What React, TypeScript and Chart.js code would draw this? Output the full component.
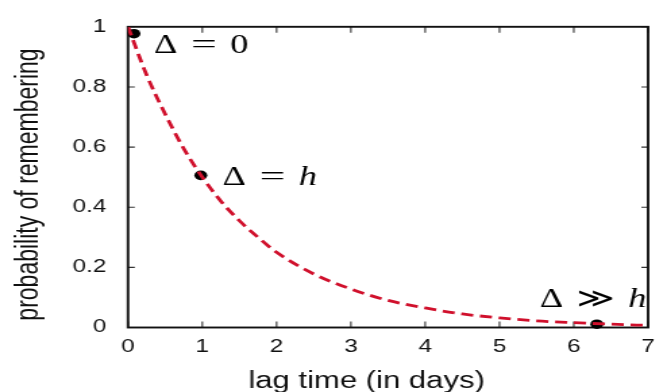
import React, { useEffect, useRef } from "react";
import { Chart, registerables } from "chart.js";

Chart.register(...registerables);

// ---- data ----
const curveX = [0, 0.25, 0.5, 0.75, 1, 1.25, 1.5, 1.75, 2, 2.5, 3, 3.5, 4, 4.5, 5, 5.5, 6, 6.5, 7];
const curveY = [1.0, 0.84, 0.71, 0.595, 0.5, 0.42, 0.355, 0.3, 0.25, 0.178, 0.128, 0.09, 0.065, 0.045, 0.032, 0.022, 0.016, 0.011, 0.007];
const pointX = [0.08, 0.98, 6.31];
const pointY = [0.977, 0.506, 0.011];
const labelTexts = ["Δ = 0", "Δ = h", "Δ ≫ h"];
const labelX = [0.35, 1.27, 5.54];
const labelY = [0.912, 0.474, 0.068];
const xTicks = [0, 1, 2, 3, 4, 5, 6, 7];
const yTicks = [0, 0.2, 0.4, 0.6, 0.8, 1];
const xTitle = "lag time (in days)";
const yTitle = "probability of remembering";

const SANS = '"Liberation Sans", Arial, Helvetica, sans-serif';
const SERIF = '"Liberation Serif", "Times New Roman", serif';

const framePlugin = {
  id: "frame",
  beforeDatasetsDraw(chart: any) {
    const { ctx, chartArea: a, scales } = chart;
    ctx.save();
    ctx.strokeStyle = "#333";
    ctx.lineWidth = 1.1;
    xTicks.forEach((v) => {
      const px = scales.x.getPixelForValue(v);
      ctx.beginPath();
      ctx.moveTo(px, a.bottom);
      ctx.lineTo(px, a.bottom - 6);
      ctx.moveTo(px, a.top);
      ctx.lineTo(px, a.top + 6);
      ctx.stroke();
    });
    yTicks.forEach((v) => {
      const py = scales.y.getPixelForValue(v);
      ctx.beginPath();
      ctx.moveTo(a.left, py);
      ctx.lineTo(a.left + 5, py);
      ctx.moveTo(a.right, py);
      ctx.lineTo(a.right - 5, py);
      ctx.stroke();
    });
    ctx.strokeStyle = "#111";
    ctx.lineWidth = 1.9;
    ctx.strokeRect(a.left, a.top, a.right - a.left, a.bottom - a.top);
    ctx.restore();
  },
};

const textPlugin = {
  id: "texts",
  afterDraw(chart: any) {
    const { ctx, scales } = chart;
    ctx.save();
    ctx.fillStyle = "#000";
    ctx.textAlign = "left";
    ctx.textBaseline = "alphabetic";
    labelTexts.forEach((t, i) => {
      const [p1, rel, p3] = t.split(" ");
      const x = scales.x.getPixelForValue(labelX[i]);
      const y = scales.y.getPixelForValue(labelY[i]);
      ctx.font = `27px ${SERIF}`;
      ctx.fillText(p1, x, y);
      const x2 = x + 27.5;
      const sx = rel === "=" ? 1.25 : 1;
      const relW = ctx.measureText(rel).width * sx;
      ctx.save();
      ctx.translate(x2, y);
      ctx.scale(sx, 1);
      ctx.fillText(rel, 0, 0);
      ctx.restore();
      const x3 = x2 + relW + 10;
      ctx.font = /[a-z]/.test(p3) ? `italic 27px ${SERIF}` : `27px ${SERIF}`;
      ctx.fillText(p3, x3, y);
    });
    // axis titles
    ctx.fillStyle = "#111";
    ctx.font = `23px ${SANS}`;
    ctx.textAlign = "center";
    ctx.fillText(xTitle, 271.5, 388);
    ctx.save();
    ctx.translate(27.7, 184.5);
    ctx.rotate(-Math.PI / 2);
    ctx.font = `23px ${SANS}`;
    ctx.fillText(yTitle, 0, 0);
    ctx.restore();
    ctx.restore();
  },
};

export default function App() {
  const ref = useRef<HTMLCanvasElement | null>(null);
  useEffect(() => {
    document.body.style.margin = "0";
    const canvas = ref.current!;
    const chart = new Chart(canvas, {
      type: "scatter",
      data: {
        datasets: [
          {
            data: curveX.map((x, i) => ({ x, y: curveY[i] })),
            showLine: true,
            borderColor: "#d0102c",
            borderWidth: 2.8,
            borderDash: [9, 5],
            pointRadius: 0,
            cubicInterpolationMode: "monotone",
            fill: false,
          },
          {
            data: pointX.map((x, i) => ({ x, y: pointY[i] })),
            showLine: false,
            pointRadius: 4.8,
            pointBackgroundColor: "#000",
            pointBorderColor: "#000",
            pointBorderWidth: 0,
            clip: false,
          },
        ] as any,
      },
      options: {
        responsive: false,
        animation: false,
        devicePixelRatio: 1,
        layout: { padding: { top: 22, right: 3, left: 0, bottom: 0 } },
        plugins: { legend: { display: false }, tooltip: { enabled: false } },
        scales: {
          x: {
            type: "linear",
            min: 0,
            max: 7,
            afterBuildTicks: (s: any) => {
              s.ticks = xTicks.map((v) => ({ value: v }));
            },
            afterFit: (s: any) => {
              s.height = 64.5;
            },
            grid: { display: false, drawTicks: false },
            border: { display: false },
            ticks: {
              padding: 9,
              color: "#111",
              font: { family: SANS, size: 18 },
              callback: (v: any) => String(v),
            },
          },
          y: {
            type: "linear",
            min: 0,
            max: 1,
            afterBuildTicks: (s: any) => {
              s.ticks = yTicks.map((v) => ({ value: v }));
            },
            afterFit: (s: any) => {
              s.width = 94.8;
            },
            grid: { display: false, drawTicks: false },
            border: { display: false },
            ticks: {
              padding: 16,
              color: "#111",
              font: { family: SANS, size: 18 },
              callback: (v: any) => String(v),
            },
          },
        },
      } as any,
      plugins: [framePlugin, textPlugin],
    });
    return () => chart.destroy();
  }, []);
  return (
    <canvas
      ref={ref}
      width={494}
      height={392}
      style={{ width: "667px", height: "392px", display: "block" }}
    />
  );
}
